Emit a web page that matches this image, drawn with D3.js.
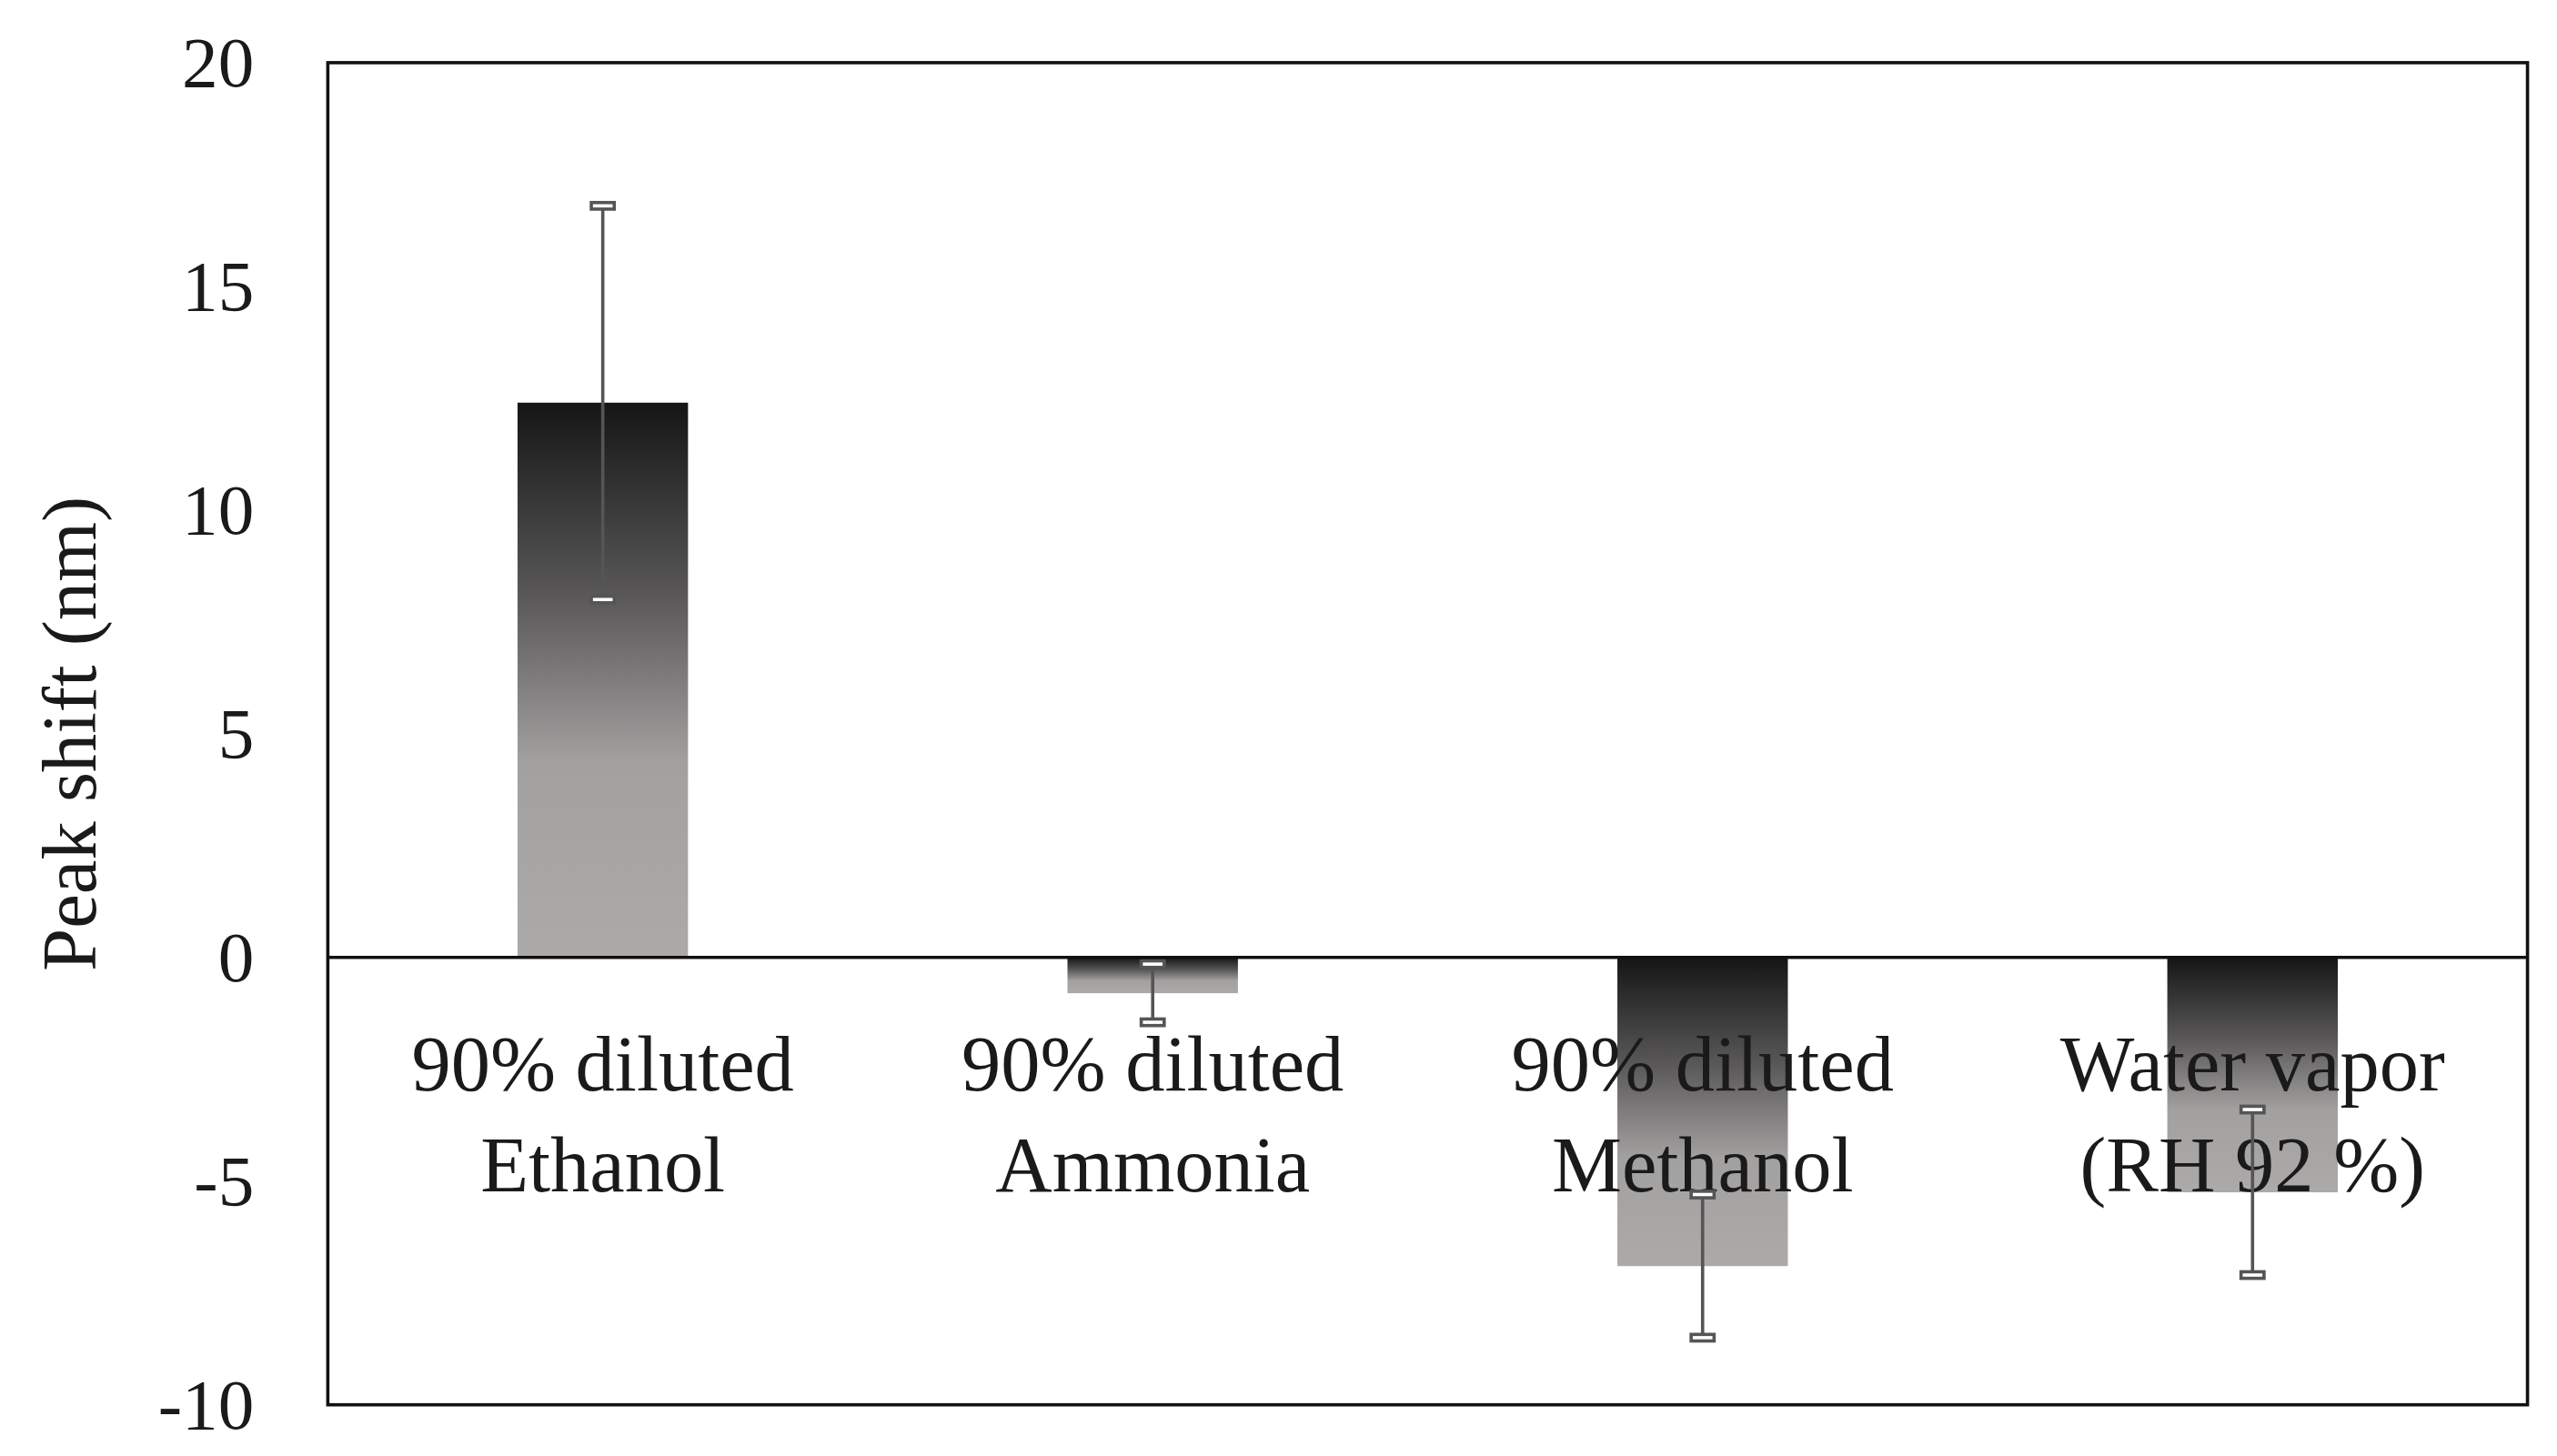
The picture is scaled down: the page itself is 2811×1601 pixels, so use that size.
<!DOCTYPE html>
<html lang="en">
<head>
<meta charset="UTF-8">
<title>Peak shift</title>
<script src="https://d3js.org/d3.v7.min.js"></script>
<style>
  body { margin: 0; background: #fff; }
  text { font-family: "Liberation Serif", "Times New Roman", serif; fill: #1a1a1a; }
</style>
</head>
<body>
<svg id="chart" width="2811" height="1601" viewBox="0 0 1560 888"></svg>
<script>
const categories = [["90% diluted", "Ethanol"], ["90% diluted", "Ammonia"], ["90% diluted", "Methanol"], ["Water vapor", "(RH 92 %)"]];
const values = [12.4, -0.8, -6.9, -5.25];
const errors = [4.4, 0.65, 1.6, 1.85];
const yTicks = [-10, -5, 0, 5, 10, 15, 20];

const svg = d3.select("#chart");
const margin = { top: 38, right: 18, bottom: 31, left: 200 };
const width = 1560, height = 888;

const x = d3.scaleBand().domain(d3.range(categories.length))
  .range([margin.left, width - margin.right]).paddingInner(0.69).paddingOuter(0.345);
const y = d3.scaleLinear().domain([-10, 20]).range([height - margin.bottom, margin.top]);

const defs = svg.append("defs");
const grad = defs.append("linearGradient").attr("id", "barGrad")
  .attr("x1", 0).attr("y1", 0).attr("x2", 0).attr("y2", 1);
grad.append("stop").attr("offset", "0%").attr("stop-color", "#151515");
grad.append("stop").attr("offset", "35%").attr("stop-color", "#5a5858");
grad.append("stop").attr("offset", "65%").attr("stop-color", "#a3a0a0");
grad.append("stop").attr("offset", "100%").attr("stop-color", "#aca9a9");

svg.selectAll(".bar").data(values).enter().append("rect")
  .attr("x", (d, i) => x(i))
  .attr("y", d => y(Math.max(0, d)))
  .attr("width", x.bandwidth())
  .attr("height", d => Math.abs(y(d) - y(0)))
  .attr("fill", "url(#barGrad)");

// category labels
categories.forEach((c, i) => {
  c.forEach((line, j) => {
    svg.append("text")
      .attr("x", x(i) + x.bandwidth() / 2)
      .attr("y", 665 + j * 62)
      .attr("text-anchor", "middle")
      .attr("font-size", 48)
      .text(line);
  });
});

// error bars
values.forEach((v, i) => {
  const cx = x(i) + x.bandwidth() / 2;
  const g = svg.append("g").attr("stroke", "#555").attr("stroke-width", 2);
  g.append("line").attr("x1", cx).attr("x2", cx).attr("y1", y(v + errors[i])).attr("y2", y(v - errors[i]));
  [v + errors[i], v - errors[i]].forEach(e => {
    g.append("rect").attr("x", cx - 7).attr("y", y(e) - 2).attr("width", 14).attr("height", 4)
      .attr("fill", "#fff");
  });
});

// zero line
svg.append("line").attr("x1", margin.left).attr("x2", width - margin.right)
  .attr("y1", y(0)).attr("y2", y(0)).attr("stroke", "#111").attr("stroke-width", 2);

// frame
svg.append("rect").attr("x", margin.left).attr("y", margin.top)
  .attr("width", width - margin.right - margin.left).attr("height", height - margin.bottom - margin.top)
  .attr("fill", "none").attr("stroke", "#111").attr("stroke-width", 2);

// y axis
const yAxis = svg.append("g").attr("transform", `translate(${margin.left},0)`)
  .call(d3.axisLeft(y).tickValues(yTicks).tickSize(0).tickPadding(45).tickFormat(d => String(d)));
yAxis.select(".domain").remove();
yAxis.selectAll("text").attr("font-size", 44).attr("font-family", "Liberation Serif, serif").attr("fill", "#1a1a1a");

svg.append("text")
  .attr("transform", `translate(58,${y(5)}) rotate(-90)`)
  .attr("text-anchor", "middle")
  .attr("font-size", 47)
  .text("Peak shift (nm)");
</script>
</body>
</html>
